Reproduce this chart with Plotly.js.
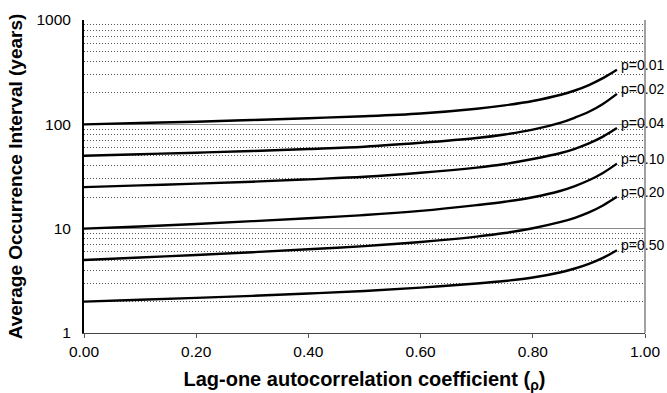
<!DOCTYPE html>
<html>
<head>
<meta charset="utf-8">
<script src="https://cdn.plot.ly/plotly-3.0.1.min.js"></script>
<style>html,body{margin:0;padding:0;background:#fff;}#chart{width:667px;height:393px;}</style>
</head>
<body>
<div id="chart"></div>
<script>
const rho = [0, 0.1, 0.2, 0.3, 0.4, 0.5, 0.6, 0.7, 0.75, 0.8, 0.85, 0.875, 0.9, 0.925, 0.95];
const labels = ["p=0.01", "p=0.02", "p=0.04", "p=0.10", "p=0.20", "p=0.50"];
const p001 = [100, 103, 106, 110, 114.5, 119.5, 127, 141, 152, 167.5, 192, 211, 238, 277, 333];
const p002 = [50, 51.7, 53.5, 55.5, 58, 61, 66.5, 74, 80, 89, 104, 116, 132, 157, 196];
const p004 = [25, 26, 27, 28.2, 29.7, 31.4, 34.3, 38.5, 41.7, 46.5, 53.1, 58.3, 65.6, 76.2, 92];
const p010 = [10, 10.5, 11.1, 11.8, 12.6, 13.5, 14.8, 16.8, 18.1, 20.0, 23.1, 25.6, 29.1, 34.2, 42];
const p020 = [5, 5.3, 5.6, 5.95, 6.35, 6.8, 7.45, 8.4, 9.08, 10.1, 11.6, 12.7, 14.3, 16.7, 20.2];
const p050 = [2, 2.08, 2.17, 2.27, 2.39, 2.53, 2.72, 2.98, 3.15, 3.4, 3.82, 4.15, 4.6, 5.25, 6.2];
const yTicks = [1, 10, 100, 1000];
const yTickText = ["1", "10", "100", "1000"];
const xTicks = [0, 0.2, 0.4, 0.6, 0.8, 1.0];

const FONT = 'Liberation Sans, Arial, sans-serif';
const series = [p001, p002, p004, p010, p020, p050];
const traces = series.map((s, i) => ({
  x: rho, y: s, type: 'scatter', mode: 'lines', name: labels[i],
  line: {color: '#000', width: 2.4, shape: 'spline', smoothing: 1},
  hoverinfo: 'skip'
}));
const annotations = series.map((s, i) => ({
  x: rho[rho.length - 1], y: Math.log10(s[s.length - 1]),
  xref: 'x', yref: 'y', text: labels[i], showarrow: false,
  xanchor: 'left', yanchor: 'middle', xshift: 2, yshift: 5,
  font: {family: FONT, size: 14, color: '#000'}
}));

const layout = {
  width: 667, height: 393,
  margin: {l: 84, r: 22, t: 20, b: 60},
  paper_bgcolor: '#fff', plot_bgcolor: '#fff',
  showlegend: false,
  font: {family: FONT, color: '#000', size: 15},
  xaxis: {
    range: [0, 1], tickvals: xTicks, tickformat: '.2f',
    ticks: 'outside', ticklen: 4, tickcolor: '#555', tickwidth: 1,
    showgrid: false, zeroline: false,
    showline: true, linecolor: '#444', linewidth: 1,
    tickfont: {size: 15.5},
    title: {text: '<b>Lag-one autocorrelation coefficient (<sub>ρ</sub>)</b>', font: {size: 20}, standoff: 13}
  },
  yaxis: {
    type: 'log', range: [0, 3], tickvals: yTicks, ticktext: yTickText,
    ticks: '', ticklabelstandoff: 8,
    showgrid: true, gridcolor: '#8a8a8a', gridwidth: 1,
    minor: {dtick: 'D1', showgrid: true, gridcolor: '#555', griddash: '1px,2px', gridwidth: 1, ticks: ''},
    zeroline: false, showline: true, linecolor: '#000', linewidth: 2,
    tickfont: {size: 15.5},
    title: {text: '<b>Average Occurrence Interval (years)</b>', font: {size: 19}, standoff: 9}
  },
  shapes: [
    {type: 'line', xref: 'paper', yref: 'paper', x0: 1, x1: 1, y0: 0, y1: 1, line: {color: '#444', width: 1}}
  ],
  annotations: annotations
};
Plotly.newPlot('chart', traces, layout, {staticPlot: true, displayModeBar: false});
</script>
</body>
</html>
